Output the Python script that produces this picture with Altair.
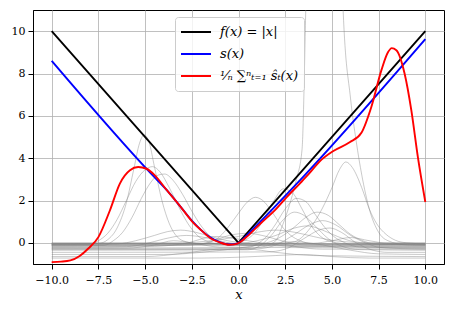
import altair as alt
import pandas as pd

# ---------------- data ----------------
x_ticks = [-10, -7.5, -5, -2.5, 0, 2.5, 5, 7.5, 10]
y_ticks = [0, 2, 4, 6, 8, 10]

labels = ["f(x) = |x|", "s(x)", "¹⁄ₙ ∑ⁿₜ₌₁ ŝₜ(x)"]
colors = ["#000000", "#0000ff", "#ff0000"]

abs_x = [-10, 0, 10]
abs_y = [10, 0, 10]

s_x = [-10, -4.5, -3.85, -3.14, -2.5, -2.0, -1.5, -1.0, -0.5, -0.2, 0.1, 0.5, 1.5, 3.5, 10]
s_y = [8.6, 3.1, 2.5, 1.75, 1.05, 0.6, 0.25, 0.03, -0.08, -0.06, 0.05, 0.4, 1.3, 3.15, 9.62]

mean_x = [-10, -9.5, -9, -8.5, -8.04, -7.5, -6.88, -6.35, -5.81, -5.37, -4.92, -4.48, -3.85,
          -3.14, -2.5, -2.0, -1.5, -1.0, -0.5, -0.2, 0.1, 0.5, 1.14, 2.03, 2.57, 3.28, 3.81,
          4.35, 5.1, 5.95, 6.58, 7.11, 7.65, 8.0, 8.2, 8.45, 8.89, 9.25, 9.6, 10]
mean_y = [-0.91, -0.89, -0.83, -0.62, -0.27, 0.27, 1.54, 2.8, 3.43, 3.58, 3.5, 3.19, 2.5,
          1.75, 1.03, 0.6, 0.22, 0.02, -0.09, -0.07, 0.04, 0.33, 0.88, 1.62, 2.15, 2.8, 3.3,
          3.85, 4.35, 4.75, 5.2, 6.42, 8.16, 9.0, 9.2, 9.1, 8.0, 6.27, 4.06, 1.93]

gray_curves = [
    [(-10, -0.05), (-7.5, -0.03), (-7, 0.15), (-6.5, 0.7), (-6, 1.9), (-5.6, 3.5), (-5.3, 4.7),
     (-5.05, 5.1), (-4.8, 4.8), (-4.5, 3.6), (-4.1, 2.0), (-3.7, 0.9), (-3.3, 0.3), (-2.8, 0.05),
     (-2, -0.05), (10, -0.05)],
    [(-10, -0.1), (-8, -0.08), (-7.5, 0.1), (-7, 0.45), (-6.5, 1.1), (-6, 2.0), (-5.5, 2.9),
     (-5, 3.45), (-4.6, 3.6), (-4.2, 3.35), (-3.7, 2.6), (-3.2, 1.7), (-2.7, 0.9), (-2.2, 0.35),
     (-1.6, 0.05), (-0.8, -0.08), (10, -0.1)],
    [(-10, -0.15), (-7.2, -0.12), (-6.7, 0.1), (-6.2, 0.5), (-5.7, 1.2), (-5.2, 2.1), (-4.7, 2.85),
     (-4.3, 3.2), (-3.95, 3.25), (-3.5, 2.95), (-3, 2.3), (-2.5, 1.5), (-2, 0.8), (-1.5, 0.3),
     (-1, 0.02), (-0.3, -0.12), (10, -0.15)],
    [(-10, -0.08), (-6.5, -0.05), (-5.5, 0.1), (-4.5, 0.35), (-3.8, 0.53), (-3.1, 0.6), (-2.3, 0.5),
     (-1.5, 0.3), (-0.7, 0.12), (0, 0.02), (1, -0.05), (10, -0.08)],
    [(-10, -0.2), (-6, -0.18), (-5, -0.05), (-4, 0.18), (-2.8, 0.35), (-1.8, 0.25), (-0.8, 0.05),
     (0.5, -0.12), (10, -0.2)],
    [(-10, -0.1), (-2, -0.08), (-1.5, 0.05), (-1, 0.3), (-0.5, 0.8), (0, 1.4), (0.5, 1.95),
     (0.9, 2.15), (1.3, 2.0), (1.8, 1.45), (2.3, 0.8), (2.8, 0.35), (3.3, 0.1), (4, -0.05), (10, -0.1)],
    [(-10, -0.05), (-0.3, -0.05), (0.3, 0.1), (0.9, 0.5), (1.4, 1.2), (1.9, 2.0), (2.4, 2.55),
     (2.9, 2.35), (3.4, 1.6), (3.9, 0.8), (4.4, 0.3), (5, 0.05), (6, -0.05), (10, -0.05)],
    [(-10, -0.25), (0.5, -0.22), (1, -0.05), (1.5, 0.3), (2, 0.9), (2.5, 1.6), (3.1, 2.1),
     (3.6, 1.95), (4.1, 1.35), (4.6, 0.75), (5.1, 0.3), (5.7, 0.0), (6.5, -0.2), (10, -0.25)],
    [(-10, -0.05), (2, -0.05), (3, 0.05), (3.5, 0.35), (4, 0.9), (4.5, 1.65), (5, 2.6), (5.4, 3.45),
     (5.75, 3.82), (6.1, 3.55), (6.6, 2.6), (7, 1.6), (7.4, 0.9), (7.9, 0.4), (8.4, 0.12), (9, 0.0),
     (10, -0.05)],
    [(-10, -0.12), (1.5, -0.1), (2, 0.1), (2.3, 0.7), (2.8, 2.0), (3.1, 3.0), (3.4, 4.4), (3.6, 11),
     (3.9, 25), (4.6, 40), (5.3, 25), (5.6, 11), (6.0, 6.8), (6.3, 4.8), (6.6, 3.2), (7.0, 1.6),
     (7.5, 0.5), (8, 0.1), (9, -0.1), (10, -0.12)],
    [(-10, -0.1), (0.5, -0.1), (1.5, 0.0), (2.3, 0.3), (3, 0.75), (3.6, 1.2), (4.2, 1.45), (4.8, 1.3),
     (5.4, 0.85), (6, 0.4), (6.6, 0.12), (7.3, -0.05), (10, -0.1)],
    [(-10, -0.3), (1, -0.28), (2, -0.1), (3, 0.4), (3.8, 0.85), (4.5, 1.05), (5.2, 0.85), (6, 0.35),
     (6.8, 0.0), (7.6, -0.22), (10, -0.3)],
    [(-10, -0.05), (0, -0.03), (1, 0.1), (2, 0.35), (3, 0.7), (3.7, 0.8), (4.5, 0.6), (5.3, 0.3),
     (6.2, 0.05), (7.5, -0.05), (10, -0.05)],
    [(-10, 0.0), (-3, 0.0), (-1.5, 0.1), (0, 0.3), (1, 0.5), (2, 0.6), (3, 0.5), (4, 0.3), (5, 0.12),
     (6.5, 0.02), (10, 0.0)],
    [(-10, -0.55), (-4, -0.55), (-2, -0.45), (0, -0.25), (1.5, -0.05), (3, 0.05), (4.5, -0.1),
     (6, -0.35), (7.5, -0.52), (10, -0.55)],
    [(-10, -0.65), (-5, -0.65), (-3, -0.5), (-1, -0.3), (0.5, -0.3), (2, -0.45), (4, -0.6), (10, -0.65)],
    [(-10, -0.72), (-2, -0.72), (0, -0.68), (2, -0.6), (3.5, -0.55), (5, -0.65), (7, -0.72), (10, -0.72)],
    [(-10, -0.45), (1.5, -0.43), (2.5, -0.3), (3.5, 0.2), (4.3, 0.6), (4.9, 0.7), (5.5, 0.5), (6.3, 0.0),
     (7.2, -0.35), (8, -0.45), (10, -0.45)],
    [(-10, -0.15), (-3, -0.12), (-1.5, 0.05), (-0.5, 0.35), (0.5, 0.45), (1.5, 0.3), (2.5, 0.05),
     (3.5, -0.1), (10, -0.15)],
    [(-10, -0.2), (-5, -0.18), (-3, -0.05), (-1.2, 0.3), (0.5, 0.1), (2, -0.1), (3, -0.18), (10, -0.2)],
    [(-10, -0.35), (0.5, -0.33), (1.2, -0.1), (1.8, 0.4), (2.4, 1.1), (3, 1.45), (3.5, 1.3), (4.1, 0.8),
     (4.8, 0.2), (5.5, -0.15), (6.5, -0.32), (10, -0.35)],
    [(-10, -0.02), (4, -0.02), (5, 0.1), (6, 0.25), (7, 0.1), (8, -0.02), (10, -0.02)],
    [(-10, -0.3), (0, -0.3), (1.2, -0.2), (2.2, -0.05), (3.2, -0.2), (4.5, -0.3), (10, -0.3)],
    [(-10, -0.25), (-6, -0.25), (-4.5, -0.1), (-3.5, 0.1), (-2.5, 0.0), (-1, -0.2), (10, -0.25)],
]

# ---------------- tables ----------------
gray_rows = []
for ci, pts in enumerate(gray_curves):
    for i, (gx, gy) in enumerate(pts):
        gray_rows.append({"x": gx, "y": gy, "curve": ci, "i": i})
gray_df = pd.DataFrame(gray_rows)

main_rows = []
for lab, xs, ys in [(labels[0], abs_x, abs_y), (labels[1], s_x, s_y), (labels[2], mean_x, mean_y)]:
    for i, (mx, my) in enumerate(zip(xs, ys)):
        main_rows.append({"x": mx, "y": my, "series": lab, "i": i})
main_df = pd.DataFrame(main_rows)

xscale = alt.Scale(domain=[-11, 11], nice=False, zero=False)
yscale = alt.Scale(domain=[-1, 11], nice=False, zero=False)
xaxis = alt.Axis(values=x_ticks, format=".1f", title="x", labelPadding=5, titlePadding=3)
yaxis = alt.Axis(values=y_ticks, format="d", title=None, labelPadding=3)

gray = alt.Chart(gray_df).mark_line(
    clip=True, color="#808080", strokeWidth=0.6, opacity=0.7, interpolate="monotone"
).encode(
    x=alt.X("x:Q", scale=xscale, axis=xaxis),
    y=alt.Y("y:Q", scale=yscale, axis=yaxis),
    detail="curve:N",
    order="i:Q",
)

color_enc = alt.Color(
    "series:N",
    scale=alt.Scale(domain=labels, range=colors),
    legend=alt.Legend(title=None),
)

layers = [gray]
for lab, interp in zip(labels, ["linear", "monotone", "monotone"]):
    layers.append(
        alt.Chart(main_df).transform_filter(alt.datum.series == lab).mark_line(
            clip=True, strokeWidth=1.9, interpolate=interp
        ).encode(
            x=alt.X("x:Q", scale=xscale, axis=xaxis),
            y=alt.Y("y:Q", scale=yscale, axis=yaxis),
            color=color_enc,
            order="i:Q",
        )
    )

chart = alt.layer(*layers).properties(
    width=411, height=254,
    autosize="none",
    padding={"left": 25, "top": 2, "right": 3, "bottom": 46},
).configure_view(
    stroke="black", strokeWidth=1
).configure_axis(
    labelFont="DejaVu Serif", labelFontSize=11, labelColor="black",
    tickColor="black", tickSize=5, domainColor="black", domainWidth=1,
    gridColor="#b0b0b0", gridWidth=0.8,
    titleFont="DejaVu Serif", titleFontStyle="italic", titleFontWeight="normal",
    titleFontSize=13, titleColor="black",
).configure_legend(
    orient="none", legendX=142, legendY=7,
    fillColor="rgba(255,255,255,0.8)", strokeColor="#cccccc", cornerRadius=3,
    padding=5, symbolType="stroke", symbolSize=900, symbolStrokeWidth=2,
    clipHeight=20, rowPadding=2,
    labelFont="DejaVu Serif", labelFontStyle="italic", labelFontSize=13,
    labelColor="black", labelOffset=8,
)

chart.save("out.html", embed_options={"renderer": "svg", "actions": False})
